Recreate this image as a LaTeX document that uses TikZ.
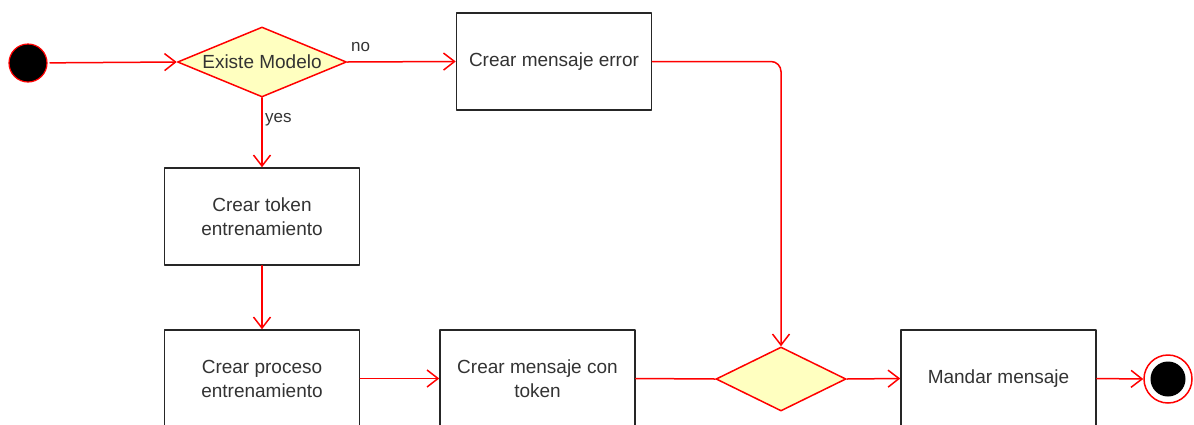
\documentclass[tikz,border=0pt]{standalone}
\usepackage{fontspec}
\setmainfont{Liberation Sans}
\usetikzlibrary{arrows.meta,shapes.geometric}

\tikzset{
  flow/.style={draw=red,line width=1.5pt,-{Straight Barb[length=11pt,width=17pt,line width=1.5pt]}},
  link/.style={draw=red,line width=1.5pt},
  action/.style={draw=black!85,line width=1.5pt,fill=white,minimum width=195pt,minimum height=97pt,
    align=center,inner sep=0pt,font=\fontsize{19}{24}\selectfont,text=black!80},
  decision/.style={diamond,draw=red,line width=1.5pt,fill={rgb,255:red,255;green,255;blue,192},
    minimum width=169pt,minimum height=70pt,inner sep=0pt,aspect=2.4,
    font=\fontsize{19}{24}\selectfont,text=black!80},
  initial/.style={circle,draw=red,line width=1.2pt,fill=black,minimum size=38pt,inner sep=0pt,outer sep=3pt},
  guard/.style={font=\fontsize{17}{20}\selectfont,text=black!80,anchor=west,inner sep=0pt}
}

\begin{document}
\begin{tikzpicture}[x=1pt,y=-1pt,line cap=round,line join=round]
\useasboundingbox (0,0) rectangle (1194,424);
\clip (0,0) rectangle (1194,424);

% nodes
\node[initial] (start) at (28,63) {};
\node[decision] (exists) at (262,62) {Existe Modelo};
\node[action] (error) at (554,61.5) {Crear mensaje error};
\node[action] (token) at (262,216.5) {Crear token\\entrenamiento};
\node[action] (train) at (262,378.5) {Crear proceso\\entrenamiento};
\node[action] (msgtoken) at (537.5,378.5) {Crear mensaje con\\token};
\node[decision,minimum width=130pt,minimum height=64pt] (merge) at (781,379) {};
\node[action] (send) at (998.5,378.5) {Mandar mensaje};
\node[circle,draw=red,line width=1.5pt,fill=white,minimum size=48pt,inner sep=0pt] (stop) at (1168,379) {};
\node[circle,fill=black,minimum size=35pt,inner sep=0pt] (stopdot) at (stop) {};

% guards
\node[guard] (nolabel) at (351,47) {no};
\node[guard] (yeslabel) at (265,120) {yes};

% connectors
\draw[flow] (start) -- (exists.west);
\draw[flow] (exists.east) -- (error.west);
\draw[flow] (exists.south) -- (token.north);
\draw[flow] (token.south) -- (train.north);
\draw[flow] (train.east) -- (msgtoken.west);
\draw[link] (msgtoken.east) -- (merge.west);
\draw[flow,rounded corners=10pt] (error.east) -| (merge.north);
\draw[flow] (merge.east) -- (send.west);
\draw[flow] (send.east) -- (stop.west);
\end{tikzpicture}
\end{document}
